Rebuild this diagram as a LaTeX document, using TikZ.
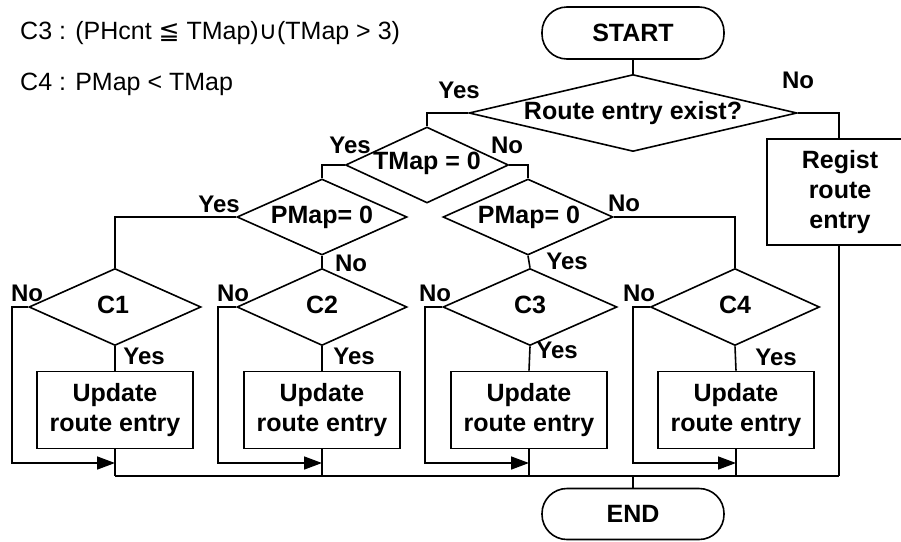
\documentclass[tikz,border=0pt]{standalone}
\usepackage{fontspec}
\setmainfont{Liberation Sans}
\newfontfamily\symfont{DejaVu Sans}
\usetikzlibrary{shapes.geometric,arrows.meta}

\tikzset{
  base/.style={draw, line width=1.6pt, inner sep=0pt, font=\bfseries\fontsize{25}{30}\selectfont},
  term/.style={base, rectangle, rounded corners=25pt, minimum width=182pt, minimum height=52pt},
  decide/.style={base, diamond, minimum width=#1, minimum height=77pt},
  decide/.default=170pt,
  proc/.style={base, rectangle, minimum width=156pt, minimum height=77pt, align=center},
  inner/.style={font=\bfseries\fontsize{25}{30}\selectfont, inner sep=0pt, align=center},
  tag/.style={font=\bfseries\fontsize{24}{28}\selectfont, inner sep=0pt},
  note/.style={font=\fontsize{25}{30}\selectfont, inner sep=0pt, anchor=west},
  wire/.style={line width=1.6pt},
  arr/.style={line width=1.6pt, -{Triangle[length=18pt,width=13pt]}}
}

\begin{document}
\begin{tikzpicture}[x=1pt, y=-1pt]
\useasboundingbox (0,0) rectangle (901,541);

% conditions
\node[note] (n3) at (20,33) {C3 : (PHcnt {\symfont ≦} TMap){\symfont ∪}(TMap > 3)};
\node[note] (n4) at (20,84) {C4 : PMap < TMap};

% terminals
\node[term] (start) at (633,33) {START};
\node[term, minimum height=51pt] (end) at (633,514) {END};

% decisions
\node[decide=328pt] (q0) at (633,113) {};
\node[inner] at (633,113) {Route entry exist?};
\node[decide=163pt, minimum height=76pt] (tm) at (427,165) {};
\node[inner] at (427,163) {TMap = 0};
\node[decide, minimum height=76pt] (pl) at (322,217) {};
\node[inner] at (322,217) {PMap= 0};
\node[decide, minimum height=76pt] (pr) at (528,217) {};
\node[inner] at (529,217) {PMap= 0};
\node[decide=172pt] (c1) at (115,307) {};
\node[inner] at (113,305) {C1};
\node[decide] (c2) at (322,307) {};
\node[inner] at (322,305) {C2};
\node[decide=174pt] (c3) at (530,307) {};
\node[inner] at (530,305) {C3};
\node[decide=169pt] (c4) at (735,307) {};
\node[inner] at (735,305) {C4};

% processes; the registration box runs past the right margin
\node[proc, minimum width=150pt, minimum height=106pt] (reg) at (842,192) {};
\node[inner] (regtext) at (840,192) {Regist\\route\\entry};
\node[proc] (u1) at (115,410) {Update\\route entry};
\node[proc] (u2) at (322,410) {Update\\route entry};
\node[proc] (u3) at (529,410) {Update\\route entry};
\node[proc] (u4) at (736,410) {Update\\route entry};

% merge points
\coordinate (rin) at (839,139);
\coordinate (rout) at (839,245);
\coordinate (m1) at (115,463);
\coordinate (m2) at (322,463);
\coordinate (m3) at (529,463);
\coordinate (m4) at (736,463);
\coordinate (j1) at (115,476);
\coordinate (j2) at (322,476);
\coordinate (j3) at (529,476);
\coordinate (j4) at (736,476);
\coordinate (jr) at (839,476);

% connectors
\draw[wire] (start) -- (q0.north);
\draw[wire] (q0.west) -| (tm.north);
\draw[wire] (q0.east) -| (rin);
\draw[wire] (tm.west) -| (pl.north);
\draw[wire] (tm.east) -| (pr.north);
\draw[wire] (pl.west) -| (c1.north);
\draw[wire] (pl.south) -- (c2.north);
\draw[wire] (pr.south) -- (c3.north);
\draw[wire] (pr.east) -| (c4.north);

\draw[wire] (c1.south) -- (u1.north);
\draw[wire] (c2.south) -- (u2.north);
\draw[wire] (c3.south) -- (u3.north);
\draw[wire] (c4.south) -- (u4.north);

\draw[arr] (c1.west) -- ++(-16,0) |- (m1);
\draw[arr] (c2.west) -- ++(-18,0) |- (m2);
\draw[arr] (c3.west) -- ++(-17,0) |- (m3);
\draw[arr] (c4.west) -- ++(-17,0) |- (m4);

\draw[wire] (u1.south) -- (j1);
\draw[wire] (u2.south) -- (j2);
\draw[wire] (u3.south) -- (j3);
\draw[wire] (u4.south) -- (j4);
\draw[wire] (rout) -- (jr);
\draw[wire] (j1) -- (jr);
\draw[wire] (end.north) -- (end.north |- j1);

% branch labels
\node[tag] (y0) at (459,90) {Yes};
\node[tag] (n0) at (798,80) {No};
\node[tag] (y1) at (350,145) {Yes};
\node[tag] (n1) at (507,145) {No};
\node[tag] (y2) at (219,204) {Yes};
\node[tag] (n2) at (351,263) {No};
\node[tag] (n5) at (624,203) {No};
\node[tag] (y5) at (567,261) {Yes};
\node[tag] (nc1) at (27,293) {No};
\node[tag] (yc1) at (144,356) {Yes};
\node[tag] (nc2) at (233,293) {No};
\node[tag] (yc2) at (354,356) {Yes};
\node[tag] (nc3) at (435,293) {No};
\node[tag] (yc3) at (557,350) {Yes};
\node[tag] (nc4) at (639,293) {No};
\node[tag] (yc4) at (776,357) {Yes};
\end{tikzpicture}
\end{document}
